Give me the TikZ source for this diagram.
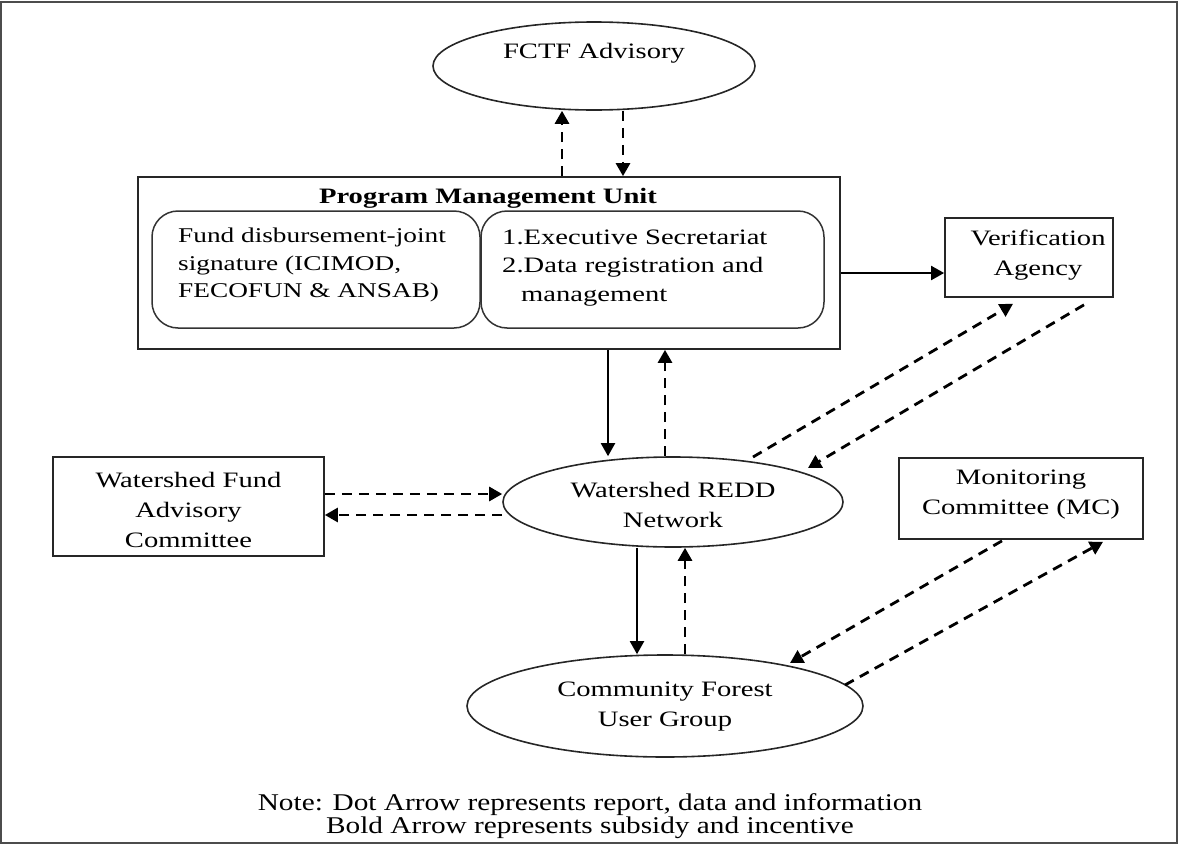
\documentclass[tikz,border=0pt]{standalone}
\usepackage{fontspec}
\setmainfont{Liberation Serif}[FakeStretch=1.3]
\newfontfamily\notefont{Liberation Serif}[FakeStretch=1.22]
\usetikzlibrary{shapes.geometric,arrows.meta,calc}

\tikzset{
  txt/.style={font=\fontsize{22}{29}\selectfont, align=center, inner sep=0pt},
  boxnode/.style={draw=black!85, line width=1.7pt, rectangle, inner sep=0pt},
  ovalnode/.style={draw=black!85, line width=1.6pt, ellipse, inner sep=0pt},
  roundbox/.style={draw=black!80, line width=1.5pt, rectangle, rounded corners=26pt, inner sep=0pt},
  tip/.style={-{Triangle[length=13pt,width=14pt]}},
  solidarrow/.style={tip, line width=2pt},
  dasharrow/.style={tip, line width=2.8pt, dash pattern=on 10pt off 7pt}
}

\begin{document}
\begin{tikzpicture}[x=1pt,y=-1pt]
\useasboundingbox (0,0) rectangle (1179,846);

% outer frame
\draw[line width=2pt, black!70] (1,2) rectangle (1177,843);

% top advisory body
\node[ovalnode, minimum width=322pt, minimum height=88pt] (fctf) at (594,66) {};
\node[txt] (fctfT) at (594,53) {FCTF Advisory};

% program management unit with its two parts
\node[boxnode, minimum width=702pt, minimum height=172pt] (pmu) at (489,263) {};
\node[txt, font=\fontsize{22}{29}\selectfont\bfseries] (pmuT) at (488,198) {Program Management Unit};
\node[roundbox, minimum width=328pt, minimum height=117pt] (fund) at (316,269.5) {};
\node[roundbox, minimum width=343pt, minimum height=117pt] (sec) at (652.5,269.5) {};
\node[txt, align=left, anchor=west, font=\fontsize{21}{27.5}\selectfont] (fundT) at (178,265)
  {Fund disbursement-joint\\signature (ICIMOD,\\FECOFUN \& ANSAB)};
\node[txt, align=left, anchor=west, font=\fontsize{22}{28.5}\selectfont] (secT) at (502,268)
  {1.Executive Secretariat\\2.Data registration and\\\hspace*{19pt}management};

% verification agency
\node[boxnode, minimum width=168pt, minimum height=79pt] (va) at (1029,257.5) {};
\node[txt, font=\fontsize{22}{30}\selectfont] (vaT) at (1038,255) {Verification\\Agency};

% watershed REDD network
\node[ovalnode, minimum width=340pt, minimum height=90pt] (redd) at (673,502) {};
\node[txt, font=\fontsize{22}{30}\selectfont] (reddT) at (673,505) {Watershed REDD\\Network};

% watershed fund advisory committee
\node[boxnode, minimum width=271pt, minimum height=99pt] (wfac) at (188.5,506.5) {};
\node[txt, font=\fontsize{22}{30}\selectfont] (wfacT) at (188.5,510) {Watershed Fund\\Advisory\\Committee};

% monitoring committee
\node[boxnode, minimum width=244pt, minimum height=81pt] (mc) at (1021,498.5) {};
\node[txt, font=\fontsize{22}{30}\selectfont] (mcT) at (1021,495) {Monitoring\\Committee (MC)};

% community forest user group
\node[ovalnode, minimum width=396pt, minimum height=102pt] (cfug) at (665,706) {};
\node[txt, font=\fontsize{22}{30}\selectfont] (cfugT) at (665,707) {Community Forest\\User Group};

% note
\node[inner sep=0pt, align=center, font=\notefont\fontsize{24}{23}\selectfont] (note) at (590,816)
  {Note: Dot Arrow represents report, data and information\\Bold Arrow represents subsidy and incentive};

% connectors: advisory <-> PMU
\draw[dasharrow] (562,0 |- pmu.north) -- (562,0 |- fctf.south);
\draw[dasharrow] (623,0 |- fctf.south) -- (623,0 |- pmu.north);

% PMU -> verification
\draw[solidarrow] (pmu.east |- 0,273) -- (va.west |- 0,273);

% PMU <-> REDD network
\draw[solidarrow] (608,0 |- pmu.south) -- (608,0 |- redd.north);
\draw[dasharrow] (665,0 |- redd.north) -- (665,0 |- pmu.south);

% fund advisory committee <-> REDD network
\draw[dasharrow] (wfac.east |- 0,494) -- (redd.west |- 0,494);
\draw[dasharrow] (redd.west |- 0,515) -- (wfac.east |- 0,515);

% verification <-> REDD network
\draw[dasharrow] ($(redd.center)+(80,-45)$) -- ($(va.south)+(-16,6)$);
\draw[dasharrow] ($(va.south)+(55,7)$) -- ($(redd.center)+(135,-34)$);

% REDD network <-> user group
\draw[solidarrow] (637,0 |- redd.south) -- (637,0 |- cfug.north);
\draw[dasharrow] (685,0 |- cfug.north) -- (685,0 |- redd.south);

% monitoring committee <-> user group
\draw[dasharrow] ($(mc.south)+(-19,1)$) -- ($(cfug.center)+(125,-43)$);
\draw[dasharrow] ($(cfug.center)+(180,-21)$) -- ($(mc.south)+(82,2)$);
\end{tikzpicture}
\end{document}
